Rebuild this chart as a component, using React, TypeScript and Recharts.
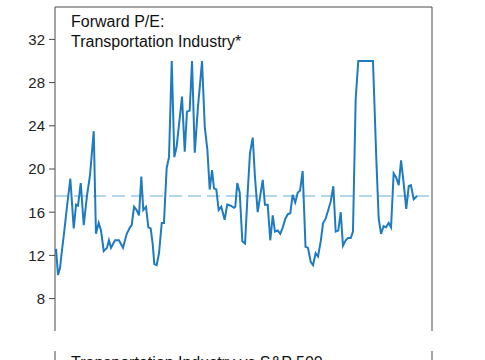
import { LineChart, Line, XAxis, YAxis, ReferenceLine } from 'recharts';

// Forward P/E, transportation industry
const years = [
  1995.08, 1995.23, 1995.38, 1995.54, 1995.69, 1995.92, 1996.18, 1996.44, 1996.62, 1996.77,
  1996.98, 1997.21, 1997.46, 1997.69, 1997.98, 1998.15, 1998.36, 1998.54, 1998.75, 1999.0,
  1999.15, 1999.31, 1999.62, 1999.92, 2000.23, 2000.52, 2000.77, 2000.9, 2001.08, 2001.28,
  2001.46, 2001.64, 2001.79, 2002.0, 2002.18, 2002.36, 2002.52, 2002.64, 2002.82, 2003.0,
  2003.21, 2003.38, 2003.59, 2003.77, 2003.98, 2004.18, 2004.36, 2004.77, 2004.98, 2005.15,
  2005.36, 2005.54, 2005.75, 2006.0, 2006.18, 2006.31, 2006.52, 2006.72, 2006.9, 2007.08,
  2007.23, 2007.41, 2007.59, 2007.79, 2008.05, 2008.25, 2008.52, 2008.77, 2008.87, 2009.02,
  2009.21, 2009.41, 2009.62, 2009.82, 2010.0, 2010.21, 2010.38, 2010.59, 2010.77, 2010.98,
  2011.15, 2011.36, 2011.56, 2011.75, 2011.92, 2012.13, 2012.33, 2012.52, 2012.72, 2012.9,
  2013.1, 2013.28, 2013.48, 2013.67, 2013.85, 2014.05, 2014.27, 2014.46, 2014.67, 2014.85,
  2015.05, 2015.23, 2015.44, 2015.62, 2015.82, 2016.02, 2016.21, 2016.41, 2016.59, 2016.79,
  2016.98, 2017.15, 2017.36, 2017.54, 2017.75, 2017.92, 2018.13, 2018.33, 2019.46, 2019.72,
  2019.9, 2020.08, 2020.28, 2020.46, 2020.67, 2020.85, 2021.05, 2021.25, 2021.44, 2021.62,
  2021.82, 2022.02, 2022.21, 2022.38, 2022.59, 2022.85,
];

const forwardPE = [
  12.6, 10.2, 10.8, 12.5, 14.0, 16.5, 19.1, 14.5, 16.7, 16.6,
  18.7, 14.8, 17.5, 19.4, 23.5, 14.0, 15.0, 14.3, 12.4, 12.7,
  13.4, 12.7, 13.4, 13.4, 12.7, 14.0, 14.6, 14.8, 16.5, 16.2,
  15.7, 19.3, 16.2, 16.5, 14.6, 14.5, 13.0, 11.2, 11.1, 12.2,
  15.0, 15.0, 20.1, 21.1, 30.0, 21.1, 22.1, 26.7, 21.6, 25.3,
  25.4, 30.0, 21.5, 25.8, 28.2, 30.0, 23.9, 21.8, 18.1, 19.9,
  18.2, 18.1, 16.2, 16.5, 15.3, 16.7, 16.6, 16.4, 16.5, 18.7,
  17.8, 13.3, 13.1, 17.8, 21.5, 22.9, 19.3, 16.0, 17.4, 19.0,
  16.7, 16.7, 13.4, 15.7, 14.2, 14.3, 14.0, 14.6, 15.4, 15.8,
  15.9, 17.6, 16.9, 17.8, 18.0, 19.8, 12.8, 12.7, 11.4, 11.1,
  12.2, 11.9, 13.3, 15.0, 15.4, 16.2, 17.0, 18.4, 14.2, 14.3,
  16.0, 12.9, 13.4, 13.6, 13.6, 14.2, 26.5, 30.0, 30.0, 20.8,
  15.4, 14.0, 14.7, 14.6, 15.0, 14.6, 19.6, 19.2, 18.5, 20.8,
  18.7, 16.3, 18.4, 18.5, 17.2, 17.5,
];

const AVERAGE = 17.5;
const Y_TICKS = [8, 12, 16, 20, 24, 28, 32];

const data = years.map((t, i) => ({ t, pe: forwardPE[i] }));

const FONT = '"Liberation Sans", Arial, sans-serif';
const AXIS = '#4a4a4a';
const tickStyle = { fontSize: 15, fill: '#222', fontFamily: FONT };

export default function App() {
  return (
    <div
      style={{
        position: 'absolute',
        left: 0,
        top: 0,
        width: 485,
        height: 360,
        overflow: 'hidden',
        background: '#fff',
      }}
    >
      <LineChart width={485} height={360} data={data} margin={{ top: 7, right: 0, bottom: 29, left: 0 }}>
        <XAxis dataKey="t" type="number" domain={[1995, 2024]} hide />
        <YAxis
          yAxisId="left"
          orientation="left"
          width={55}
          domain={[5, 35]}
          ticks={Y_TICKS}
          tick={tickStyle}
          tickSize={6}
          tickMargin={4}
          axisLine={{ stroke: AXIS }}
          tickLine={{ stroke: AXIS }}
        />
        <YAxis
          yAxisId="right"
          orientation="right"
          width={53}
          domain={[5, 35]}
          ticks={Y_TICKS}
          tick={{ ...tickStyle, textAnchor: 'start' }}
          tickSize={6}
          tickMargin={4}
          axisLine={{ stroke: AXIS }}
          tickLine={{ stroke: AXIS }}
        />
        <ReferenceLine yAxisId="left" y={35} stroke={AXIS} />
        <ReferenceLine
          yAxisId="left"
          y={AVERAGE}
          stroke="#9cc9e6"
          strokeWidth={1.6}
          strokeDasharray="13 6"
        />
        <Line
          yAxisId="left"
          dataKey="pe"
          type="linear"
          stroke="#1f7bc0"
          strokeWidth={2}
          dot={false}
          isAnimationActive={false}
        />
      </LineChart>

      <div
        style={{
          position: 'absolute',
          left: 71,
          top: 12,
          fontFamily: FONT,
          fontSize: 16,
          lineHeight: '19.5px',
          color: '#111',
        }}
      >
        Forward P/E:
        <br />
        Transportation Industry*
      </div>

      {/* second panel, cut off by the bottom edge */}
      <div style={{ position: 'absolute', left: 0, top: 351 }}>
        <LineChart width={485} height={60} data={[]} margin={{ top: 0, right: 0, bottom: 0, left: 0 }}>
          <XAxis type="number" domain={[1995, 2024]} hide />
          <YAxis
            yAxisId="l2"
            orientation="left"
            width={55}
            domain={[0, 1]}
            tick={false}
            tickLine={false}
            axisLine={{ stroke: AXIS }}
          />
          <YAxis
            yAxisId="r2"
            orientation="right"
            width={53}
            domain={[0, 1]}
            tick={false}
            tickLine={false}
            axisLine={{ stroke: AXIS }}
          />
        </LineChart>
      </div>
      <div
        style={{
          position: 'absolute',
          left: 71,
          top: 355,
          fontFamily: FONT,
          fontSize: 16,
          lineHeight: '16px',
          color: '#111',
          whiteSpace: 'nowrap',
        }}
      >
        Transportation Industry vs S&amp;P 500
      </div>
    </div>
  );
}
